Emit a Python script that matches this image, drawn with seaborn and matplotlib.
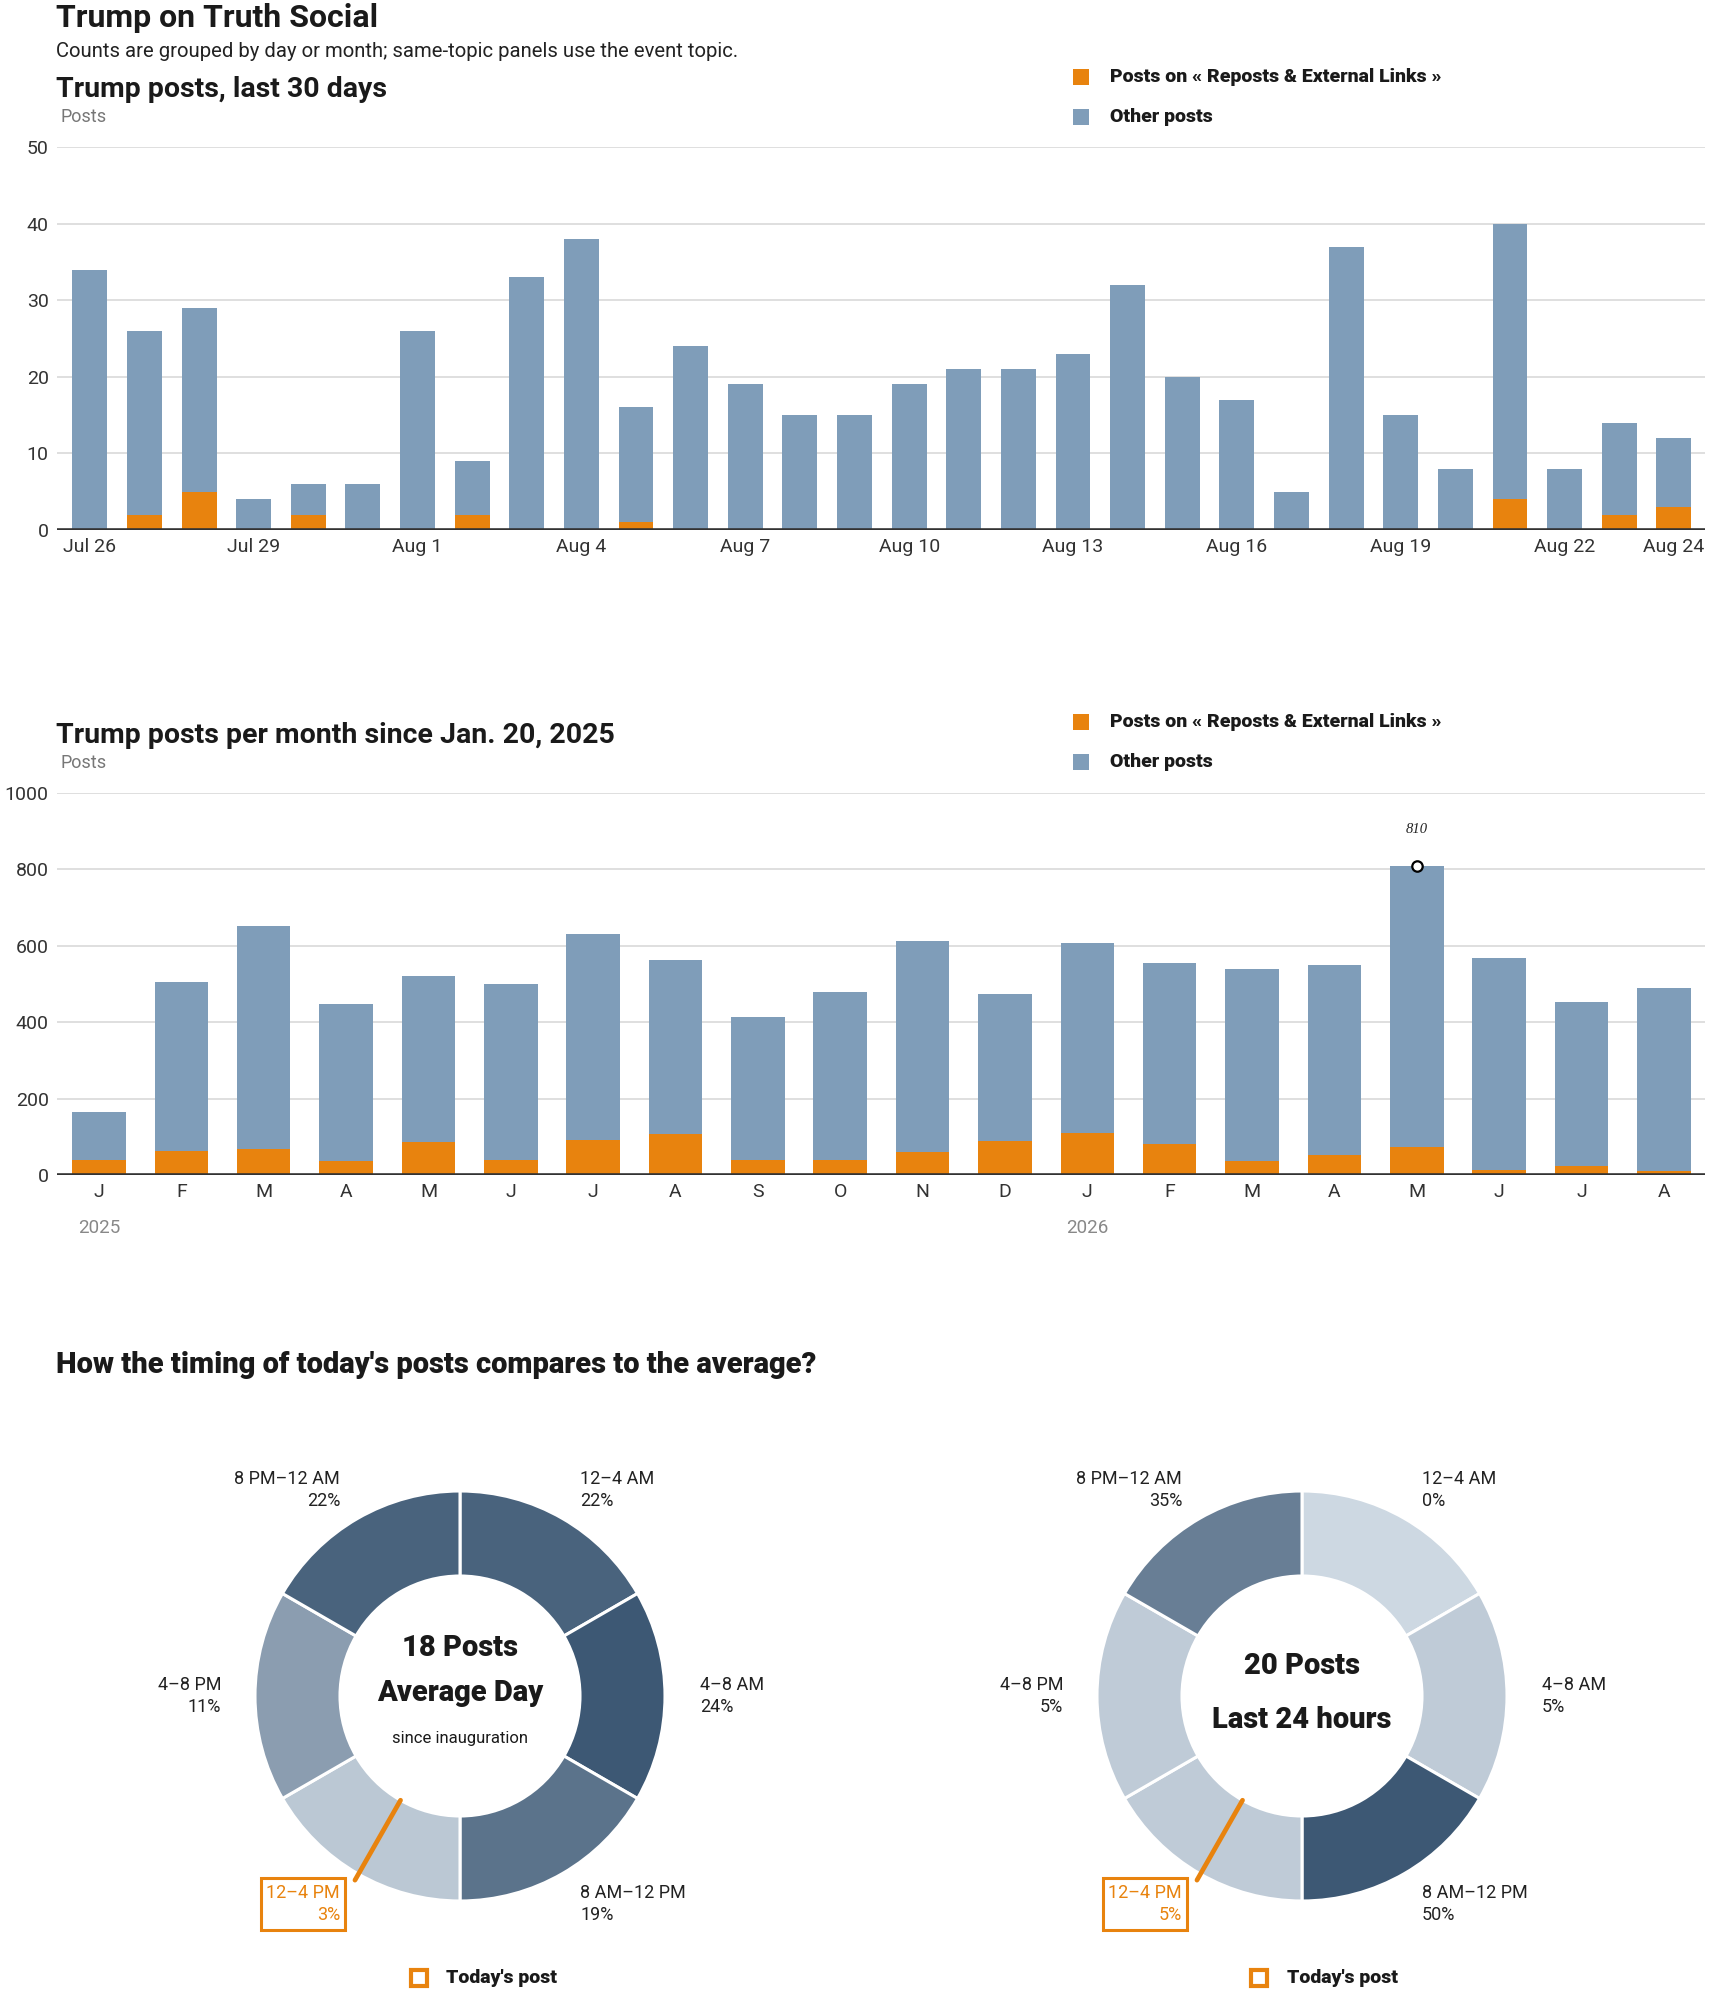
import numpy as np
import pandas as pd
import matplotlib
matplotlib.use("Agg")
import matplotlib.pyplot as plt
import matplotlib.transforms as mtransforms
from matplotlib.patches import Rectangle
from matplotlib.colors import LinearSegmentedColormap
import seaborn as sns

# ---------------- data ----------------
day_labels = ["Jul 26", "Jul 27", "Jul 28", "Jul 29", "Jul 30", "Jul 31",
              "Aug 1", "Aug 2", "Aug 3", "Aug 4", "Aug 5", "Aug 6", "Aug 7",
              "Aug 8", "Aug 9", "Aug 10", "Aug 11", "Aug 12", "Aug 13",
              "Aug 14", "Aug 15", "Aug 16", "Aug 17", "Aug 18", "Aug 19",
              "Aug 20", "Aug 21", "Aug 22", "Aug 23", "Aug 24"]
day_total = [34, 26, 29, 4, 6, 6, 26, 9, 33, 38, 16, 24, 19, 15, 15, 19, 21,
             21, 23, 32, 20, 17, 5, 37, 15, 8, 40, 8, 14, 12]
day_topic = [0, 2, 5, 0, 2, 0, 0, 2, 0, 0, 1, 0, 0, 0, 0, 0, 0, 0, 0, 0, 0, 0,
             0, 0, 0, 0, 4, 0, 2, 3]
day_tick_labels = ["Jul 26", "Jul 29", "Aug 1", "Aug 4", "Aug 7", "Aug 10",
                   "Aug 13", "Aug 16", "Aug 19", "Aug 22", "Aug 24"]

month_keys = ["2025-01", "2025-02", "2025-03", "2025-04", "2025-05", "2025-06",
              "2025-07", "2025-08", "2025-09", "2025-10", "2025-11", "2025-12",
              "2026-01", "2026-02", "2026-03", "2026-04", "2026-05", "2026-06",
              "2026-07", "2026-08"]
month_letters = ["J", "F", "M", "A", "M", "J", "J", "A", "S", "O", "N", "D",
                 "J", "F", "M", "A", "M", "J", "J", "A"]
month_total = [165, 505, 653, 447, 520, 499, 630, 562, 413, 478, 612, 474,
               607, 556, 538, 549, 810, 567, 452, 489]
month_topic = [40, 63, 68, 36, 86, 40, 92, 108, 40, 40, 60, 89,
               110, 82, 36, 52, 72, 14, 24, 10]
year_labels = ["2025", "2026"]

slot_labels = ["12–4 AM", "4–8 AM", "8 AM–12 PM", "12–4 PM", "4–8 PM", "8 PM–12 AM"]
avg_pct = [22, 24, 19, 3, 11, 22]
last_pct = [0, 5, 50, 5, 5, 35]
avg_posts = 18
last_posts = 20
today_post_hour = 13.98
today_slot = 3

# ---------------- style ----------------
sns.set_theme(style="white")
plt.rcParams["font.family"] = ["Roboto", "DejaVu Sans"]

W, H, DPI = 1710, 1993, 100
fig = plt.figure(figsize=(W / DPI, H / DPI), dpi=DPI)
fig.patch.set_facecolor("white")

BLUE = "#7f9db9"
ORANGE = "#e8830e"
INK = "#1a1a1a"
GRID = "#dcdcdc"
R_OUT = 205.0
R_IN = 120.0


def fx(px):
    return px / W


def fy(py):
    return 1 - py / H


def ftext(px, py, s, **kw):
    return fig.text(fx(px), fy(py), s, **kw)


def fsquare(x0, y0, size, **kw):
    fig.add_artist(Rectangle((fx(x0), fy(y0 + size)), size / W, size / H,
                             transform=fig.transFigure, **kw))


def style_bar_axes(ax, ymax, step, xlim):
    ax.set_xlim(*xlim)
    ax.set_ylim(0, ymax)
    ax.set_yticks(np.arange(0, ymax + 1, step))
    ax.grid(axis="y", color=GRID, lw=1.3)
    ax.grid(axis="x", visible=False)
    ax.set_axisbelow(True)
    for s in ax.spines.values():
        s.set_visible(False)
    ax.axhline(0, color="#333333", lw=2.6, zorder=5)
    ax.tick_params(axis="both", length=0, labelsize=14, colors="#333333")
    ax.tick_params(axis="y", pad=6)
    ax.tick_params(axis="x", pad=6)
    ax.set_xlabel("")
    ax.set_ylabel("")
    ax.patch.set_alpha(0)


def legend_block(y1, y2):
    fsquare(1073, y1 - 8, 16, color=ORANGE, lw=0)
    ftext(1110, y1, "Posts on « Reposts & External Links »", fontsize=14,
          fontweight="black", color=INK, va="center")
    fsquare(1073, y2 - 8, 16, color=BLUE, lw=0)
    ftext(1110, y2, "Other posts", fontsize=14, fontweight="black",
          color=INK, va="center")


BAR_KW = dict(saturation=1, errorbar=None, linewidth=0, edgecolor="none")

# ---------------- header ----------------
ftext(56, 27, "Trump on Truth Social", fontsize=23, fontweight="bold",
      color=INK, va="baseline")
ftext(56, 57, "Counts are grouped by day or month; same-topic panels use the event topic.",
      fontsize=14.6, color="#222222", va="baseline")

# ---------------- daily chart ----------------
ftext(56, 97, "Trump posts, last 30 days", fontsize=20.5, fontweight="bold",
      color=INK, va="baseline")
ftext(60, 122, "Posts", fontsize=13, color="#777777", va="baseline")
legend_block(77, 117)

ax1 = fig.add_axes([fx(57), fy(530), (1705 - 57) / W, (530 - 147) / H])
df_day = pd.DataFrame({"day": day_labels, "total": day_total, "topic": day_topic})
sns.barplot(data=df_day, x="day", y="total", order=day_labels, color=BLUE,
            width=0.64, ax=ax1, zorder=2, **BAR_KW)
sns.barplot(data=df_day, x="day", y="topic", order=day_labels, color=ORANGE,
            width=0.64, ax=ax1, zorder=3, **BAR_KW)
style_bar_axes(ax1, 50, 10, (-0.6, len(day_labels) - 0.43))
tick_idx = [day_labels.index(t) for t in day_tick_labels]
ax1.set_xticks(tick_idx, day_tick_labels)

# ---------------- monthly chart ----------------
ftext(56, 743, "Trump posts per month since Jan. 20, 2025", fontsize=20.5,
      fontweight="bold", color=INK, va="baseline")
ftext(60, 768, "Posts", fontsize=13, color="#777777", va="baseline")
legend_block(722, 762)

ax2 = fig.add_axes([fx(57), fy(1175), (1705 - 57) / W, (1175 - 793) / H])
df_mon = pd.DataFrame({"month": month_keys, "total": month_total, "topic": month_topic})
sns.barplot(data=df_mon, x="month", y="total", order=month_keys, color=BLUE,
            width=0.65, ax=ax2, zorder=2, **BAR_KW)
sns.barplot(data=df_mon, x="month", y="topic", order=month_keys, color=ORANGE,
            width=0.65, ax=ax2, zorder=3, **BAR_KW)
style_bar_axes(ax2, 1000, 200, (-0.51, len(month_keys) - 0.5))
ax2.set_xticks(range(len(month_keys)), month_letters)

imax = int(np.argmax(month_total))
ax2.plot(imax, month_total[imax], "o", mfc="white", mec="black", ms=7.5,
         mew=1.6, zorder=7, clip_on=False)
ax2.text(imax, 905, f"{month_total[imax]}", ha="center", va="center",
         fontsize=10.5, fontstyle="italic", family=["Liberation Serif", "DejaVu Serif"],
         color="#222222")

blend = mtransforms.blended_transform_factory(ax2.transData, fig.transFigure)
for lab in year_labels:
    idx = month_keys.index(lab + "-01")
    ax2.text(idx, fy(1233), lab, transform=blend, ha="center", va="baseline",
             fontsize=13.5, color="#888888")

# ---------------- donuts ----------------
ftext(56, 1373, "How the timing of today's posts compares to the average?",
      fontsize=21, fontweight="black", color=INK, va="baseline")

cmap = LinearSegmentedColormap.from_list("slots", ["#cdd8e2", "#3d5874"])
CY = 1696
label_pos = [(120, 206, "left"), (240, 0, "left"), (120, -208, "left"),
             (-120, -208, "right"), (-239, 0, "right"), (-120, 206, "right")]


def donut(cx, pct, center_lines):
    ax = fig.add_axes([fx(cx - 380), fy(1993), 760 / W, (1993 - 1399) / H])
    vmax = max(pct)
    cols = [cmap(p / vmax) for p in pct]
    ax.pie([1] * len(pct), startangle=90, counterclock=False, colors=cols,
           radius=1, wedgeprops=dict(width=1 - R_IN / R_OUT, edgecolor="white",
                                     linewidth=2.2))
    ax.set_xlim(-380 / R_OUT, 380 / R_OUT)
    ax.set_ylim(-(1993 - CY) / R_OUT, (CY - 1399) / R_OUT)
    ax.set_aspect("equal")
    ax.axis("off")
    for i, (dx, dy, ha) in enumerate(label_pos):
        kw = {}
        col = "#222222"
        if i == today_slot:
            col = ORANGE
            kw["bbox"] = dict(boxstyle="square,pad=0.3", fc="none", ec=ORANGE, lw=2.2)
        ax.text(dx / R_OUT, dy / R_OUT, f"{slot_labels[i]}\n{pct[i]}%",
                ha=ha, va="center", multialignment=ha, fontsize=13,
                linespacing=1.35, color=col, **kw)
    # today's post marker
    ang = np.deg2rad(90 - today_post_hour / 24 * 360)
    r0, r1 = R_IN / R_OUT, 212 / R_OUT
    ax.plot([r0 * np.cos(ang), r1 * np.cos(ang)], [r0 * np.sin(ang), r1 * np.sin(ang)],
            color=ORANGE, lw=3.4, solid_capstyle="round", zorder=6)
    for dy, s, size, weight in center_lines:
        ax.text(0, dy / R_OUT, s, ha="center", va="center", fontsize=size,
                fontweight=weight, color=INK)


donut(460, avg_pct, [(48, f"{avg_posts} Posts", 21, "black"),
                     (3, "Average Day", 21, "black"),
                     (-43, "since inauguration", 12, "normal")])
donut(1302, last_pct, [(30, f"{last_posts} Posts", 21, "black"),
                       (-24, "Last 24 hours", 21, "black")])

for sx, tx in [(411, 446), (1251, 1287)]:
    fsquare(sx, 1970, 16, fill=False, ec=ORANGE, lw=3)
    ftext(tx, 1978, "Today's post", fontsize=14, fontweight="black",
          color=INK, va="center")

fig.savefig("out.png", dpi=DPI)
